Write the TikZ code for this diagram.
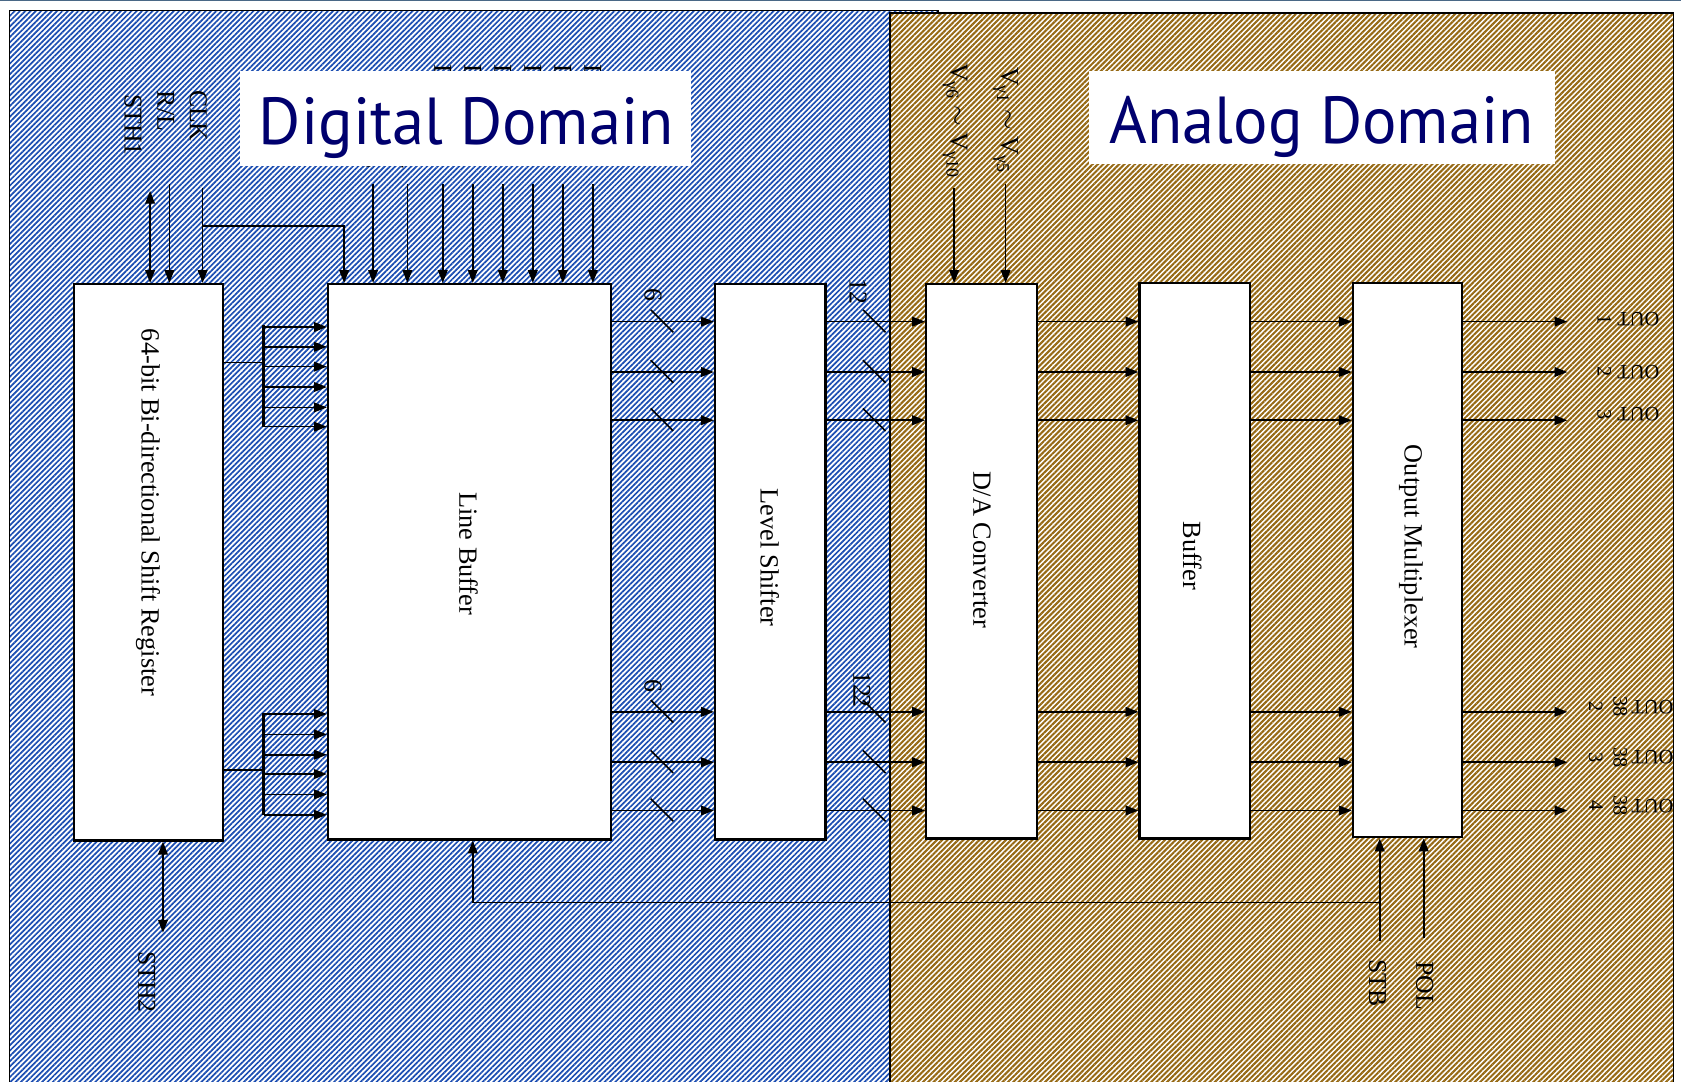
\documentclass[tikz,border=0pt]{standalone}
\usepackage{fontspec}
\setmainfont{Liberation Serif}
\newfontfamily\titlefont{PT Sans}
\usetikzlibrary{arrows.meta,patterns.meta}

\definecolor{digblue}{RGB}{28,78,178}
\definecolor{anabrown}{RGB}{150,105,20}
\definecolor{titlenavy}{RGB}{0,0,110}
\definecolor{rimline}{RGB}{74,104,134}

\tikzset{
  wire/.style={draw=black, line width=1.5pt},
  arr/.style={wire, -{Triangle[length=12pt,width=9pt]}},
  biarr/.style={wire, {Triangle[length=12pt,width=9pt]}-{Triangle[length=12pt,width=9pt]}},
  bus/.style={draw=black, line width=2.4pt},
  blockbox/.style={draw=black, fill=white, line width=2.2pt, inner sep=0pt},
  blocktxt/.style={font=\fontsize{24.5}{29}\selectfont, rotate=-90, inner sep=0pt},
  lbl/.style={font=\fontsize{24}{28}\selectfont, rotate=-90, inner sep=0pt},
  outlbl/.style={font=\fontsize{19}{22}\selectfont, rotate=180, inner sep=0pt, anchor=base west},
  titlebox/.style={fill=white, draw=none, inner sep=0pt},
  titletxt/.style={font=\titlefont\fontsize{62}{68}\selectfont, text=titlenavy, inner sep=0pt, anchor=base, xscale=0.97},
  hatchblue/.style={pattern={Lines[angle=45,distance=3.5pt,line width=1.6pt]}, pattern color=digblue},
  hatchbrown/.style={pattern={Lines[angle=45,distance=3.5pt,line width=1.9pt]}, pattern color=anabrown},
}

\begin{document}
\begin{tikzpicture}[x=1pt,y=-1pt]
\useasboundingbox (0,0) rectangle (1568,1009);
\clip (0,0) rectangle (1568,1009);
\fill[white] (0,0) rectangle (1568,1009);
\fill[rimline] (0,0) rectangle (1568,1.3);

% ---- domain panels ----
\fill[white] (9,10) rectangle (875,1030);
\fill[hatchblue] (9,10) rectangle (875,1030);
\draw[line width=1.3pt] (9,1030) -- (9,10) -- (875,10) -- (875,1030);
\fill[white] (830,12) rectangle (1561,1030);
\fill[hatchbrown] (830,12) rectangle (1561,1030);
\draw[line width=1.3pt] (830,1030) -- (830,12) -- (1561,12) -- (1561,1030);

% ---- data-bus labels partly covered by the title ----
\foreach \x in {413,441,469,497,525,553}
  \node[lbl, anchor=west] (hid\x) at (\x,59.5) {D};
\node[lbl, anchor=east] (hidA) at (347,157.5) {S};
\node[lbl, anchor=east] (hidB) at (379,157.5) {4};

% ---- titles ----
\node[titlebox, minimum width=421pt, minimum height=89pt] (dbox) at (434.5,110.5) {};
\node[titletxt] (dtitle) at (435,135) {Digital Domain};
\node[titlebox, minimum width=434pt, minimum height=87pt] (abox) at (1233,109.5) {};
\node[titletxt] (atitle) at (1233,134) {Analog Domain};

% ---- blocks ----
\node[blockbox, minimum width=139pt, minimum height=519pt] (sr) at (138.5,524.5) {};
\node[blockbox, minimum width=264pt, minimum height=518pt] (lb) at (438,524) {};
\node[blockbox, minimum width=103pt, minimum height=518pt] (ls) at (718.5,524) {};
\node[blockbox, minimum width=103pt, minimum height=517pt] (da) at (915.5,523.5) {};
\node[blockbox, minimum width=103pt, minimum height=518pt] (bf) at (1114.5,523) {};
\node[blockbox, minimum width=102pt, minimum height=517pt] (om) at (1313,522.5) {};

\node[blocktxt] (srtxt) at (138,478) {64-bit Bi-directional Shift Register};
\node[blocktxt] (lbtxt) at (437,516.5) {Line Buffer};
\node[blocktxt] (lstxt) at (718,520) {Level Shifter};
\node[blocktxt] (datxt) at (916,512.5) {D/A Converter};
\node[blocktxt] (bftxt) at (1112,518.5) {Buffer};
\node[blocktxt] (omtxt) at (1316,510) {Output Multiplexer};

% ---- data path rows ----
\coordinate (r1) at (0,300);
\coordinate (r2) at (0,347);
\coordinate (r3) at (0,392);
\coordinate (r4) at (0,664);
\coordinate (r5) at (0,711);
\coordinate (r6) at (0,756);
\coordinate (oend) at (1462,0);
\foreach \r in {r1,r2,r3,r4,r5,r6}{
  \draw[arr] (lb.east |- \r) -- (ls.west |- \r);
  \draw[arr] (ls.east |- \r) -- (da.west |- \r);
  \draw[arr] (da.east |- \r) -- (bf.west |- \r);
  \draw[arr] (bf.east |- \r) -- (om.west |- \r);
  \draw[arr] (om.east |- \r) -- (oend |- \r);
}
% bus-width ticks
\foreach \y in {300,347,392,664,711,756}{
  \draw[wire] (607,\y-11) -- (628,\y+10);
  \draw[wire] (805,\y-11) -- (826,\y+10);
}
\node[lbl] (w6a) at (609,275) {6};
\node[lbl] (w6b) at (609,640) {6};
\node[lbl] (w12a) at (800.5,272) {12};
\node[lbl] (w12b) at (804,643) {12\kern-3pt 2};

% ---- outputs ----
\node[outlbl] (out1) at (1548,291.5) {OUT\hspace{6pt}\rotatebox[origin=c]{90}{1}};
\node[outlbl] (out2) at (1548,340.5) {OUT\hspace{6pt}\rotatebox[origin=c]{90}{2}};
\node[outlbl] (out3) at (1548,380.5) {OUT\hspace{6pt}\rotatebox[origin=c]{90}{3}};
\node[outlbl] (out382) at (1561,653) {OUT\hspace{4pt}\rotatebox[origin=c]{90}{38}\hspace{10pt}\rotatebox[origin=c]{90}{2}};
\node[outlbl] (out383) at (1561,700.5) {OUT\hspace{4pt}\rotatebox[origin=c]{90}{38}\hspace{10pt}\rotatebox[origin=c]{90}{3}};
\node[outlbl] (out384) at (1561,745.5) {OUT\hspace{4pt}\rotatebox[origin=c]{90}{38}\hspace{10pt}\rotatebox[origin=c]{90}{4}};

% ---- shift register to line buffer ----
\draw[wire] (sr.east |- 0,338) -- (246,338);
\draw[bus] (246,303) -- (246,398);
\foreach \y in {305,323.5,342,361,380,398}
  \draw[arr] (246,\y) -- (lb.west |- 0,\y);
\draw[wire] (sr.east |- 0,718) -- (246,718);
\draw[bus] (246,665) -- (246,760);
\foreach \y in {666,685,704,722,741,760}
  \draw[arr] (246,\y) -- (lb.west |- 0,\y);

% ---- control inputs, top ----
\coordinate (sth1in) at (140,178);
\coordinate (rlin) at (158,172);
\coordinate (clkin) at (189,175);
\draw[biarr] (sth1in) -- (sr.north -| sth1in);
\draw[arr] (rlin) -- (sr.north -| rlin);
\draw[arr] (clkin) -- (sr.north -| clkin);
\draw[arr] (clkin |- 0,211) -| (lb.north -| 321,0);
\foreach \x in {348,380,413,441,469,497,525,553}
  \draw[arr] (\x,172) -- (lb.north -| \x,0);
\node[lbl] (sth1) at (124,116.5) {STH1};
\node[lbl] (rl) at (154.5,103.5) {R/L};
\node[lbl] (clk) at (185,108) {CLK};

% ---- gamma references ----
\coordinate (vlo) at (890,175);
\coordinate (vhi) at (938,172);
\draw[arr] (vlo) -- (da.north -| vlo);
\draw[arr] (vhi) -- (da.north -| vhi);
\node[lbl] (vlotxt) at (891,112.5) {V\textsubscript{γ6} $\sim$ V\textsubscript{γ10}};
\node[lbl] (vhitxt) at (938,112) {V\textsubscript{γ1} $\sim$ V\textsubscript{γ5}};

% ---- control inputs, bottom ----
\coordinate (sth2in) at (152,870);
\draw[biarr] (sr.south -| sth2in) -- (sth2in);
\node[lbl] (sth2) at (137,916) {STH2};
\coordinate (stbin) at (1287,878);
\coordinate (polin) at (1328,875);
\draw[arr] (stbin) -- (om.south -| stbin);
\draw[arr] (polin) -- (om.south -| polin);
\draw[arr] (stbin |- 0,842) -| (lb.south -| 441,0);
\node[lbl] (stb) at (1285,917) {STB};
\node[lbl] (pol) at (1329,919.5) {POL};
\end{tikzpicture}
\end{document}
